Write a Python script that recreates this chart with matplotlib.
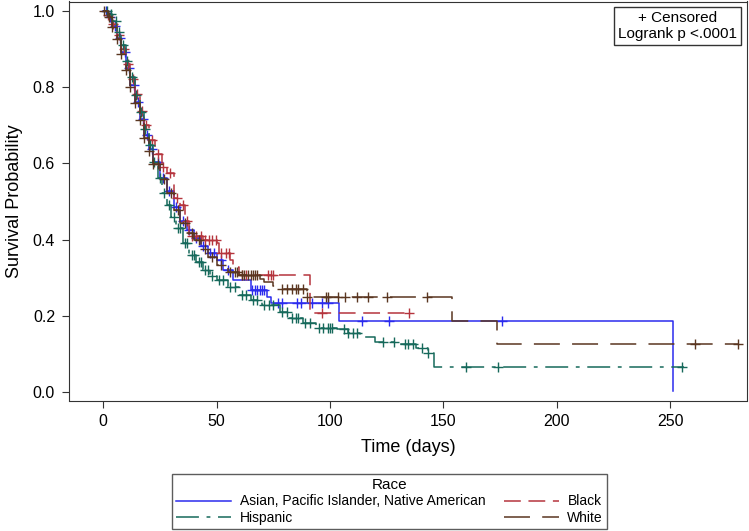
import numpy as np
import matplotlib.pyplot as plt

plt.rcParams['font.family'] = ['Liberation Sans', 'DejaVu Sans']

# Kaplan-Meier step points (time in days, survival)
asian_t = [0, 2, 4, 6, 8, 10, 12, 14, 16, 18, 20, 22, 25, 28, 31, 34, 37, 40, 43, 46, 50, 53, 57, 65, 72, 74, 104, 251]
asian_s = [1.0, 0.985, 0.962, 0.93, 0.892, 0.85, 0.805, 0.762, 0.718, 0.675, 0.638, 0.603, 0.563, 0.528, 0.485, 0.45, 0.425, 0.405, 0.383, 0.365, 0.345, 0.32, 0.293, 0.267, 0.25, 0.233, 0.186, 0.003]
asian_end = 251
asian_cens = [1, 3, 5, 7.5, 9.5, 11.5, 13.5, 15.5, 17.5, 19.5, 21.5, 24, 26.5, 29, 32, 35, 38, 41, 44, 47, 49, 52, 55,
              65.5, 67, 68, 69, 70, 71, 77, 79, 85.5, 87, 92, 96.3, 99, 114, 126, 176]

black_t = [0, 2, 4, 6, 8, 10, 12, 14, 16, 18, 20, 23, 26, 28, 31, 34, 36, 38, 44, 50, 51, 56, 57, 60, 91]
black_s = [1.0, 0.99, 0.967, 0.937, 0.9, 0.862, 0.822, 0.782, 0.738, 0.7, 0.662, 0.625, 0.59, 0.575, 0.51, 0.49, 0.45, 0.41, 0.4, 0.39, 0.365, 0.345, 0.327, 0.306, 0.207]
black_end = 135
black_cens = [2, 4.5, 7, 9, 11, 13, 15, 17, 19, 21.5, 24, 26.5, 29.5, 32.5, 35, 37, 39, 41, 43, 45, 46.5, 48, 49.5,
              52, 54, 55.5, 61, 63, 72.7, 74, 75, 96.5, 135]

hisp_t = [0, 2, 4, 6, 8, 10, 12, 14, 16, 18, 20, 22, 24, 26, 28, 30, 32, 35, 38, 41, 44, 47, 50, 55, 60, 65, 70, 78, 82,
          88, 94, 103, 108, 113, 120, 130, 138, 143, 146]
hisp_s = [1.0, 0.992, 0.973, 0.945, 0.91, 0.87, 0.826, 0.78, 0.735, 0.69, 0.648, 0.603, 0.562, 0.522, 0.49, 0.46,
          0.43, 0.39, 0.36, 0.34, 0.32, 0.305, 0.293, 0.275, 0.255, 0.24, 0.228, 0.21, 0.195, 0.18, 0.167, 0.165,
          0.155, 0.145, 0.132, 0.125, 0.115, 0.102, 0.066]
hisp_end = 256
hisp_cens = [1.5, 3.5, 5.5, 7, 8.5, 10.5, 12.5, 14.5, 16.5, 18.5, 20.5, 22.5, 25, 27, 29, 31, 33, 34, 36, 37, 39, 40,
             42, 43, 45, 46, 48, 51, 53, 56, 58, 61, 63, 66, 68, 71, 73, 75, 79, 81, 83, 85, 86, 89, 91, 95, 97, 99,
             100, 101, 106, 108, 110, 112, 123.5, 128, 133, 134.5, 136.7, 140.5, 143, 160, 174, 255]

white_t = [0, 2, 4, 6, 8, 10, 12, 14, 16, 18, 20, 22, 25, 28, 31, 34, 37, 40, 43, 46, 50, 55, 60, 69, 71, 75, 78, 90,
           153.7, 173.6]
white_s = [1.0, 0.985, 0.958, 0.927, 0.888, 0.846, 0.8, 0.758, 0.713, 0.668, 0.633, 0.598, 0.558, 0.522, 0.478,
           0.443, 0.418, 0.398, 0.375, 0.355, 0.333, 0.315, 0.306, 0.297, 0.288, 0.279, 0.27, 0.25, 0.186, 0.126]
white_end = 280
white_cens = [0.5, 2.5, 4, 6, 8, 10, 12, 14, 16, 18, 20, 22, 24, 27, 30, 33, 36, 39, 42, 45, 48, 52, 56, 58, 59,
              61, 62, 64, 65, 66, 67, 68, 79, 81, 83, 85, 86, 88, 90, 98, 99, 103.6, 106.7, 111.8, 116.8, 125,
              142.6, 261, 279.7]

labels = ['Asian, Pacific Islander, Native American', 'Black', 'Hispanic', 'White']
colors = ['#2b2bee', '#b5343d', '#16695b', '#5a3620']
styles = ['-', (0, (11, 5)), (0, (15, 5, 2.5, 5)), (0, (17, 8))]

fig = plt.figure(figsize=(7.49, 5.31), dpi=100)
ax = fig.add_axes([69 / 749, 1 - 400.5 / 531, (747 - 69) / 749, (400.5 - 1.5) / 531])

groups = [(asian_t, asian_s, asian_end, asian_cens),
          (black_t, black_s, black_end, black_cens),
          (hisp_t, hisp_s, hisp_end, hisp_cens),
          (white_t, white_s, white_end, white_cens)]

handles = []
for (t, s, end, cens), lab, col, ls in zip(groups, labels, colors, styles):
    t = np.array(t + [end], dtype=float)
    s = np.array(s + [s[-1]], dtype=float)
    h, = ax.step(t, s, where='post', color=col, lw=1.1, linestyle=ls, label=lab)
    handles.append(h)
    cens = np.array(cens, dtype=float)
    idx = np.searchsorted(t, cens, side='right') - 1
    ax.plot(cens, s[idx], linestyle='none', marker='+', ms=7, mew=1.0, color=col)

ax.set_xlim(-15.1, 283.8)
ax.set_ylim(-0.023, 1.0255)
ax.set_xticks([0, 50, 100, 150, 200, 250])
ax.set_yticks([0.0, 0.2, 0.4, 0.6, 0.8, 1.0])
ax.set_yticklabels(['0.0', '0.2', '0.4', '0.6', '0.8', '1.0'])
ax.tick_params(labelsize=11.5, length=5, color='#333333', pad=5)
for sp in ax.spines.values():
    sp.set_color('#333333')
ax.set_xlabel('Time (days)', fontsize=13, labelpad=7)
ax.set_ylabel('Survival Probability', fontsize=13, labelpad=7)

fig.text(0.9045, 0.951, '+ Censored\nLogrank p <.0001', ha='center', va='center',
         fontsize=11, linespacing=1.15,
         bbox=dict(boxstyle='square,pad=0.25', fc='white', ec='#333333', lw=1))

order = [0, 2, 1, 3]
leg = fig.legend([handles[i] for i in order], [labels[i] for i in order], ncol=2, title='Race',
                 loc='lower center', bbox_to_anchor=(0.52, 0.003), fontsize=10, title_fontsize=11,
                 frameon=True, fancybox=False, edgecolor='#333333', handlelength=4.0, handletextpad=0.6,
                 columnspacing=1.3, labelspacing=0.2, borderpad=0.3, borderaxespad=0)
leg.get_frame().set_linewidth(1)

fig.savefig('out.png', dpi=100)
